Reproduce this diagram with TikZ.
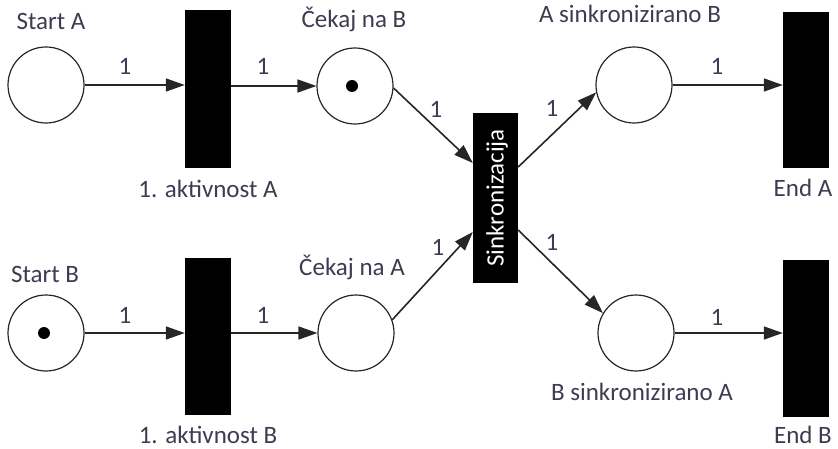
\documentclass[tikz,border=0pt]{standalone}
\usepackage{fontspec}
\setmainfont{Carlito}
\usetikzlibrary{arrows.meta}
\definecolor{txt}{HTML}{3C3C52}
\definecolor{ln}{HTML}{262626}
\begin{document}
\begin{tikzpicture}[x=1pt,y=-1pt,
  place/.style={circle,draw=ln,line width=1.2pt,minimum size=76pt,inner sep=0pt},
  trans/.style={rectangle,fill=black,draw=none,minimum width=46pt,inner sep=0pt},
  lbl/.style={text=txt,font=\fontsize{25}{30}\selectfont,inner sep=0pt,anchor=base},
  arc/.style={draw=ln,line width=1.6pt,-{Triangle[length=19pt,width=13pt]}},
  token/.style={circle,fill=black,minimum size=12pt,inner sep=0pt}]

\useasboundingbox (0,0) rectangle (838,449);

% places
\node[place] (sA)  at (46,85)  {};
\node[place] (cB)  at (355,86) {};
\node[place] (aSB) at (634,85) {};
\node[place] (sB)  at (46,333) {};
\node[place] (cA)  at (356,333) {};
\node[place] (bSA) at (636,333) {};

% tokens
\node[token] (tokB) at (352,86) {};
\node[token] (tokS) at (44,333) {};

% transitions
\node[trans,minimum height=158pt] (t1)   at (208,89)  {};
\node[trans,minimum height=157pt] (t2)   at (208,336) {};
\node[trans,minimum height=170pt,minimum width=45pt] (sync) at (495.5,198) {};
\node[trans,minimum height=156pt] (endA) at (806,90)  {};
\node[trans,minimum height=157pt] (endB) at (806,338) {};
\node[text=white,font=\fontsize{25}{30}\selectfont,rotate=90,inner sep=0pt] (synctxt) at (497,198) {Sinkronizacija};

% labels
\node[lbl] (lsA)  at (51,30)   {Start A};
\node[lbl] (lcB)  at (354,28)  {Čekaj na B};
\node[lbl] (laSB) at (630,23)  {A sinkronizirano B};
\node[lbl] (lt1)  at (208,198) {1. aktivnost A};
\node[lbl] (leA)  at (803,197) {End A};
\node[lbl] (lsB)  at (45,282)  {Start B};
\node[lbl] (lcA)  at (352,275) {Čekaj na A};
\node[lbl] (lt2)  at (208,443) {1. aktivnost B};
\node[lbl] (lbSA) at (642,400) {B sinkronizirano A};
\node[lbl] (leB)  at (803,443) {End B};

% arcs
\draw[arc] (sA.east) -- (sA.east -| t1.west);
\draw[arc] (t1.east |- cB.west) -- (cB.west);
\draw[arc] (aSB.east) -- (aSB.east -| endA.west);
\draw[arc] (sB.east) -- (sB.east -| t2.west);
\draw[arc] (t2.east |- cA.west) -- (cA.west);
\draw[arc] (bSA.east) -- (bSA.east -| endB.west);
\draw[arc] (cB.-3) -- ([yshift=35pt]sync.west);
\draw[arc] (cA.20) -- ([yshift=-34pt]sync.west);
\draw[arc] ([yshift=31pt]sync.east) -- (aSB.191);
\draw[arc] ([yshift=-32pt]sync.east) -- (bSA.149);

% weights
\node[lbl] (w1)  at (125,75)  {1};
\node[lbl] (w2)  at (263,75)  {1};
\node[lbl] (w3)  at (717,75)  {1};
\node[lbl] (w4)  at (125,323) {1};
\node[lbl] (w5)  at (263,323) {1};
\node[lbl] (w6)  at (717,325) {1};
\node[lbl] (w7)  at (436,118) {1};
\node[lbl] (w8)  at (552,117) {1};
\node[lbl] (w9)  at (438,255) {1};
\node[lbl] (w10) at (552,251) {1};
\end{tikzpicture}
\end{document}
